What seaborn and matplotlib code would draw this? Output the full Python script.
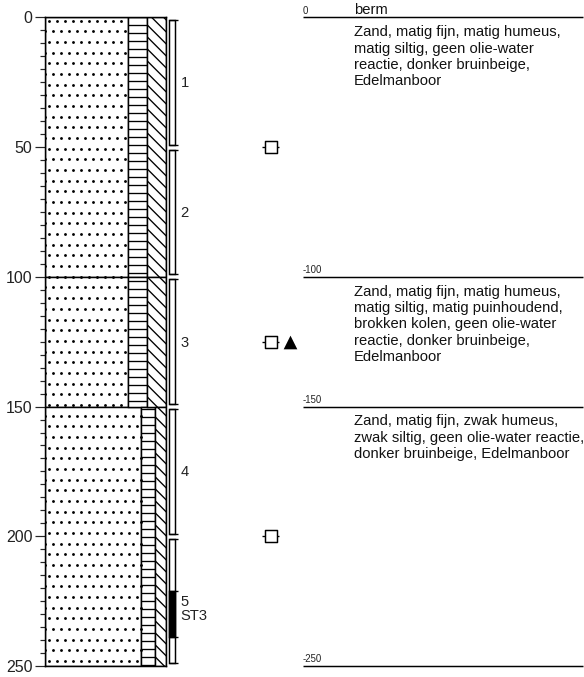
import numpy as np
import matplotlib
matplotlib.use('Agg')
import matplotlib.pyplot as plt
import matplotlib.hatch as mhatch
from matplotlib.path import Path
import seaborn as sns

# layers: depth in cm, share of the column in %
layer_top = [0, 100, 150]
layer_bottom = [100, 150, 250]
sand = [68.6, 68.6, 79.5]
silt = [15.7, 15.7, 11.5]
humus = [15.7, 15.7, 9.0]

sample_names = ['1', '2', '3', '4', '5']
sample_top = [1, 51, 101, 151, 201]
sample_bottom = [49, 99, 149, 199, 249]
st_name = 'ST3'
st_top = 221
st_bottom = 239

moist_depth = [50, 125, 200]
oil_depth = [125]

line_depth = [0, 100, 150, 250]
line_label = ['0', '-100', '-150', '-250']
descriptions = [
    'Zand, matig fijn, matig humeus,\nmatig siltig, geen olie-water\nreactie, donker bruinbeige,\nEdelmanboor',
    'Zand, matig fijn, matig humeus,\nmatig siltig, matig puinhoudend,\nbrokken kolen, geen olie-water\nreactie, donker bruinbeige,\nEdelmanboor',
    'Zand, matig fijn, zwak humeus,\nzwak siltig, geen olie-water reactie,\ndonker bruinbeige, Edelmanboor',
]
desc_depth = [3, 103, 153]


# soil textures, the tile is one inch so 96 px at this dpi
class SoilLines(mhatch.HatchPatternBase):
    def __init__(self, hatch, density):
        self.on = '-' in hatch
        self.num_vertices = 24 if self.on else 0

    def set_vertices_and_codes(self, vertices, codes):
        for i in range(12):
            y = i / 12 + 6.5 / 96
            vertices[2 * i] = [0, y]
            vertices[2 * i + 1] = [1, y]
            codes[2 * i] = Path.MOVETO
            codes[2 * i + 1] = Path.LINETO


class SoilDiag(mhatch.HatchPatternBase):
    def __init__(self, hatch, density):
        self.on = '\\' in hatch
        self.num_vertices = 34 if self.on else 0

    def set_vertices_and_codes(self, vertices, codes):
        steps = np.linspace(-0.5, 0.5, 17)
        vertices[0::2, 0] = steps
        vertices[0::2, 1] = 1 + steps + 0.024
        vertices[1::2, 0] = 1 + steps
        vertices[1::2, 1] = steps + 0.024
        codes[0::2] = Path.MOVETO
        codes[1::2] = Path.LINETO


mhatch._hatch_types[:] = [SoilLines, SoilDiag]

sns.set_style('white')
plt.rcParams['font.family'] = ['Liberation Sans', 'DejaVu Sans']
plt.rcParams['hatch.linewidth'] = 1.0

W, H = 584, 677
fig = plt.figure(figsize=(W / 96, H / 96), dpi=96)


def px_axes(x0, x1):
    return fig.add_axes([x0 / W, (H - 666) / H, (x1 - x0) / W, 648.6 / H])


# boring log
ax = px_axes(45, 166)
top = np.array(layer_top)
thick = np.array(layer_bottom) - top
left = np.zeros(3)
for share, pattern in zip([sand, silt, humus], ['', '-', '\\']):
    ax.barh(top + thick / 2, share, height=thick, left=left, color='white',
            edgecolor='k', linewidth=1.1, hatch=pattern)
    left = left + np.array(share)

# sand dots, staggered rows: 8 px apart in a row, rows 10.67 px apart
dot_x, dot_y = [], []
for k in range(61):
    depth = 1.27 + k * 10.67 / 2.594
    share = sand[np.searchsorted(layer_bottom, depth)]
    xs = np.arange(0.3 + 3.3 * (k % 2 == 0), share + 0.5, 8 / 1.21)
    dot_x.extend(xs)
    dot_y.extend([depth] * len(xs))
sns.scatterplot(x=dot_x, y=dot_y, s=4.5, color='k', linewidth=0, ax=ax, zorder=2)

ax.set_xlim(0, 100)
ax.set_ylim(250, 0)
ax.set_xticks([])
ax.set_yticks(np.arange(0, 251, 50))
ax.set_yticks(np.arange(0, 251, 5), minor=True)
ax.tick_params(axis='y', which='major', length=7.8, width=0.9, labelsize=12, pad=1.5, left=True, labelcolor='#222222')
ax.tick_params(axis='y', which='minor', length=4, width=0.9, left=True)
for s in ax.spines.values():
    s.set_linewidth(1.1)
    s.set_color('k')

# samples, moisture and oil markers, x in pixels
ax2 = px_axes(166, 303)
ax2.set_xlim(166, 303)
ax2.set_ylim(250, 0)
ax2.axis('off')
s_top = np.array(sample_top)
s_len = np.array(sample_bottom) - s_top
ax2.barh(s_top + s_len / 2, 5.8, height=s_len, left=169.2, color='white', edgecolor='k', linewidth=1.1)
ax2.barh((st_top + st_bottom) / 2, 5.8, height=st_bottom - st_top, left=169.2, color='k', edgecolor='k', linewidth=1.1)
ax2.hlines(sample_top + sample_bottom + [st_top, st_bottom], 169.2, 178.3, color='k', linewidth=1)
for name, a, b in zip(sample_names, sample_top, sample_bottom):
    ax2.text(180.5, (a + b) / 2 + 0.4, name, fontsize=11.1, va='center', ha='left', color='#222222')
ax2.text(180.5, 230.6, st_name, fontsize=11.1, va='center', ha='left', color='#222222',
         bbox=dict(facecolor='white', edgecolor='none', pad=0.5))

ax2.hlines(moist_depth, 261.7, 279.3, color='k', linewidth=1)
sns.scatterplot(x=[270.7] * len(moist_depth), y=moist_depth, marker='s', s=80, color='white',
                edgecolor='k', linewidth=1.1, ax=ax2, zorder=3, clip_on=False)
sns.scatterplot(x=[289.5] * len(oil_depth), y=oil_depth, marker='^', s=105, color='k',
                edgecolor='k', linewidth=0, ax=ax2, zorder=3, clip_on=False)
ax2.set_xlim(166, 303)
ax2.set_ylim(250, 0)

# layer descriptions
ax3 = px_axes(303, 583)
ax3.set_xlim(303, 583)
ax3.set_ylim(250, 0)
ax3.axis('off')
ax3.hlines(line_depth, 303, 583, color='k', linewidth=1.1, clip_on=False)
for d, lab in zip(line_depth, line_label):
    ax3.text(303, d - 1.5, lab, fontsize=7.2, va='baseline', ha='left', color='#222222')
ax3.text(354, -1.2, 'berm', fontsize=11.1, va='baseline', ha='left', color='#111111')
for d, txt in zip(desc_depth, descriptions):
    ax3.text(354, d, txt, fontsize=11.1, va='top', ha='left', linespacing=1.22, color='#111111')

fig.savefig('out.png', dpi=96)
